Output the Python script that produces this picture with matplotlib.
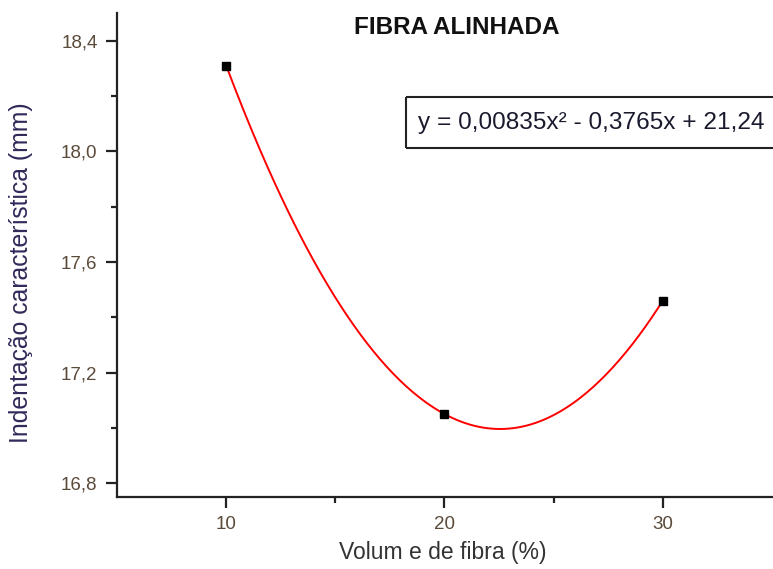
import numpy as np
from matplotlib import pyplot as plt
from matplotlib.lines import Line2D
from matplotlib.patches import Rectangle
from matplotlib.ticker import FixedLocator

# dados
volume_fibra = [10, 20, 30]
indentacao = [18.31, 17.05, 17.46]

x_ticks = [10, 20, 30]
x_minor = [15, 25]
y_ticks = [16.8, 17.2, 17.6, 18.0, 18.4]
y_labels = ["16,8", "17,2", "17,6", "18,0", "18,4"]
y_minor = [17.0, 17.4, 17.8, 18.2]

titulo = "FIBRA ALINHADA"
equacao = "y = 0,00835x² - 0,3765x + 21,24"


def main():
    plt.rcParams['font.family'] = ['Liberation Sans', 'DejaVu Sans']

    fig = plt.figure(figsize=(7.73, 5.69), dpi=100)
    ax = fig.add_axes([117 / 773, 1 - 497 / 569, 655 / 773, 484 / 569])

    # ajuste polinomial de 2a ordem
    coef = np.polyfit(volume_fibra, indentacao, 2)
    xs = np.linspace(min(volume_fibra), max(volume_fibra), 200)
    ax.plot(xs, np.polyval(coef, xs), color='#ff0000', lw=1.4, zorder=2)
    ax.plot(volume_fibra, indentacao, 's', color='black', ms=5.5, zorder=3)

    ax.set_xlim(5, 35)
    ax.set_ylim(16.75, 18.5)

    ax.set_xticks(x_ticks)
    ax.set_xticklabels([str(v) for v in x_ticks])
    ax.xaxis.set_minor_locator(FixedLocator(x_minor))
    ax.set_yticks(y_ticks)
    ax.set_yticklabels(y_labels)
    ax.yaxis.set_minor_locator(FixedLocator(y_minor))

    for s in ['top', 'right']:
        ax.spines[s].set_visible(False)
    for s in ['left', 'bottom']:
        ax.spines[s].set_linewidth(1.6)
        ax.spines[s].set_color('#222222')

    ax.tick_params(which='major', direction='out', length=8, width=1.6,
                   color='#222222', labelsize=13.5, labelcolor='#5a4a3a', pad=6)
    ax.tick_params(which='minor', direction='out', length=4.5, width=1.6,
                   color='#222222')

    # rotulos dos eixos na posicao do original
    fig.text(443 / 773, 1 - 553 / 569, "Volum e de fibra (%)", fontsize=16.5,
             color='#333333', ha='center', va='center')
    fig.text(21 / 773, 1 - 273 / 569, "Indentação característica (mm)",
             fontsize=17.8, color='#302a5a', rotation=90, ha='center', va='center')

    fig.text(457 / 773, 1 - 28 / 569, titulo, fontsize=17.5, fontweight='bold',
             ha='center', va='center', color='#111111')

    # caixa da equacao, aberta a direita (cortada na borda como no original)
    x0, x1 = 406 / 773, 1.0
    y0, y1 = 1 - 148 / 569, 1 - 97 / 569
    for xx, yy in [([x0, x1], [y1, y1]), ([x0, x1], [y0, y0]), ([x0, x0], [y0, y1])]:
        fig.lines.append(Line2D(xx, yy, transform=fig.transFigure,
                                color='#222222', lw=1.5, solid_capstyle='butt'))
    fig.text(418 / 773, 1 - 122.5 / 569, equacao, fontsize=17.6, color='#1a1a2e',
             ha='left', va='center')

    fig.savefig("out.png", dpi=100)


if __name__ == '__main__':
    main()
